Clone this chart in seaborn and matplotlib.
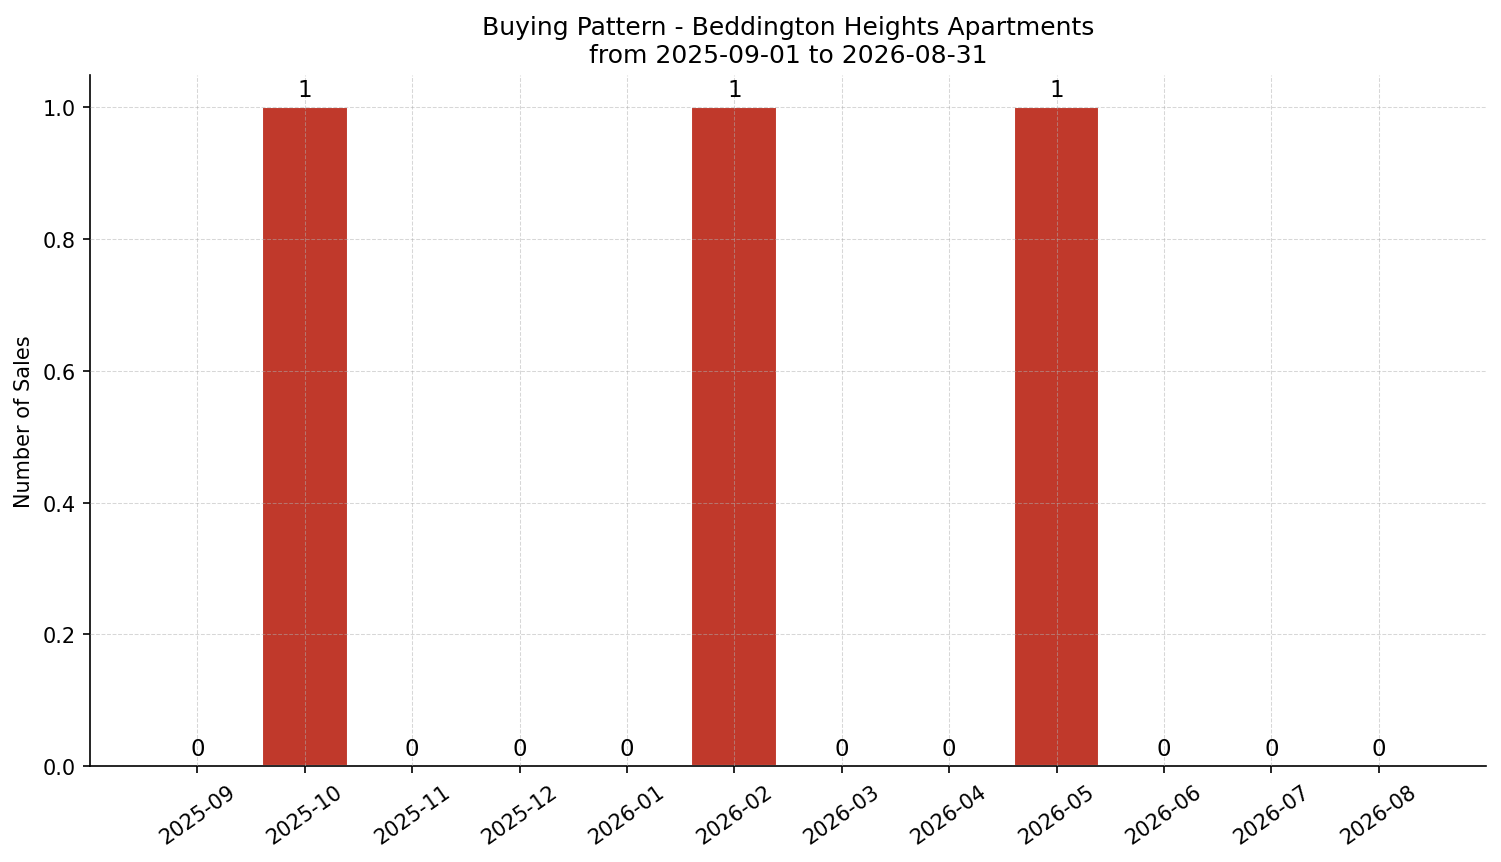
import matplotlib
matplotlib.use("Agg")
import matplotlib.pyplot as plt
import seaborn as sns
import pandas as pd

months = ["2025-09", "2025-10", "2025-11", "2025-12", "2026-01", "2026-02",
          "2026-03", "2026-04", "2026-05", "2026-06", "2026-07", "2026-08"]
sales = [0, 1, 0, 0, 0, 1, 0, 0, 1, 0, 0, 0]

sns.set_style("white")
plt.rcParams['font.family'] = ['DejaVu Sans']
plt.rcParams.update({
    "text.color": "black",
    "axes.labelcolor": "black",
    "xtick.color": "black",
    "ytick.color": "black",
    "axes.edgecolor": "black",
})

df = pd.DataFrame({"month": months, "sales": sales})
fig, ax = plt.subplots(figsize=(10.007, 5.753), dpi=150)
sns.barplot(data=df, x="month", y="sales", color="#c0392b", saturation=1,
            width=0.8, ax=ax, zorder=1)

for i, v in enumerate(sales):
    ax.text(i, v + 0.01, str(v), ha="center", va="bottom", fontsize=11)

ax.set_xlim(-1, 12)
ax.set_ylim(0, 1.05)
ax.set_axisbelow(False)
ax.grid(True, linestyle="--", linewidth=0.5, color="#b0b0b0", alpha=0.5, zorder=3)
ax.set_xlabel("")
ax.set_ylabel("Number of Sales", fontsize=10)
ax.set_title("Buying Pattern - Beddington Heights Apartments\nfrom 2025-09-01 to 2026-08-31", fontsize=12)
plt.setp(ax.get_xticklabels(), rotation=35)
ax.tick_params(axis="both", labelsize=10, length=3.5, width=0.8, bottom=True, left=True)
for s in ax.spines.values():
    s.set_linewidth(0.8)
sns.despine(ax=ax)
fig.subplots_adjust(left=0.06, right=0.99, top=0.9125, bottom=0.111)
fig.savefig("out.png", dpi=150)
